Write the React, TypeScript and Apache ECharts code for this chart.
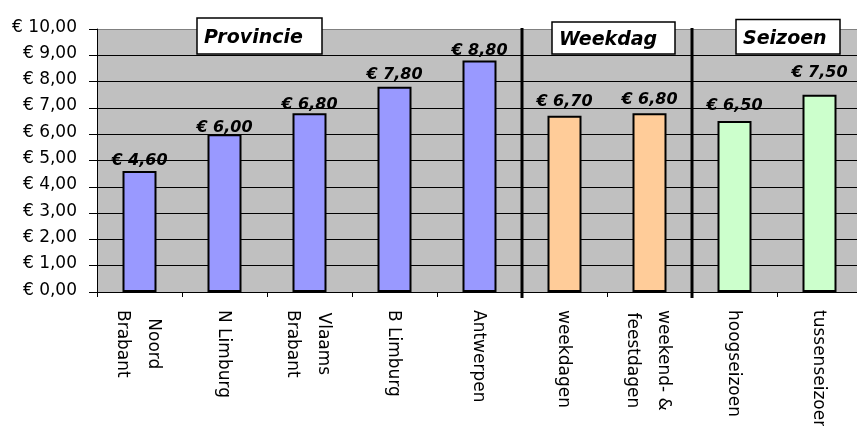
import React, { useEffect, useRef } from 'react';
import * as echarts from 'echarts';

const categories = [
  'Noord\nBrabant',
  'N Limburg',
  'Vlaams\nBrabant',
  'B Limburg',
  'Antwerpen',
  'weekdagen',
  'weekend- &\nfeestdagen',
  'hoogseizoen',
  'tussenseizoen',
];
const prices = [4.6, 6.0, 6.8, 7.8, 8.8, 6.7, 6.8, 6.5, 7.5];
const groupNames = ['Provincie', 'Weekdag', 'Seizoen'];
const groupIndex = [0, 0, 0, 0, 0, 1, 1, 2, 2];
const groupColors = ['#9999FF', '#FFCC99', '#CCFFCC'];
const labelGaps = [4, 0, 2, 5, 3, 7, 7, 9, 15];
const yMin = 0;
const yMax = 10;
const yStep = 1;

const euro = (v: number) => '€ ' + Number(v).toFixed(2).replace('.', ',');

// title boxes: [x, y, w, h]
const titleBoxes = [
  [197, 18, 125, 36],
  [552, 22, 123, 32],
  [736, 19.5, 104, 34.5],
];

export default function App() {
  const ref = useRef<HTMLDivElement>(null);
  useEffect(() => {
    const chart = echarts.init(ref.current!, null, { renderer: 'svg' });
    const splitColors: string[] = [];
    for (let v = yMin; v <= yMax; v += yStep) splitColors.push(v === yMax ? '#808080' : '#000000');
    chart.setOption({
      animation: false,
      textStyle: { fontFamily: 'DejaVu Sans' },
      grid: {
        left: 97,
        top: 29,
        width: 765,
        height: 263,
        show: true,
        backgroundColor: '#C0C0C0',
        borderWidth: 0,
        containLabel: false,
        outerBoundsMode: 'none',
      },
      xAxis: {
        type: 'category',
        data: categories,
        axisLine: { lineStyle: { color: '#000', width: 1 } },
        axisTick: { show: true, length: 5, lineStyle: { color: '#000' } },
        axisLabel: {
          rotate: -90,
          margin: 18,
          interval: 0,
          color: '#000',
          fontSize: 17,
          fontFamily: 'DejaVu Sans',
          formatter: (v: string) => v.split('\n').map((s) => `{c|${s}}`).join('\n'),
          rich: {
            c: { align: 'center', fontSize: 17, lineHeight: 31, fontFamily: 'DejaVu Sans', color: '#000' },
          },
        },
      },
      yAxis: {
        type: 'value',
        min: yMin,
        max: yMax,
        interval: yStep,
        axisLine: { show: true, lineStyle: { color: '#000' } },
        axisTick: { show: true, length: 8, lineStyle: { color: '#000' } },
        axisLabel: {
          margin: 20,
          fontSize: 17,
          color: '#000',
          fontFamily: 'DejaVu Sans',
          verticalAlign: 'bottom',
          lineHeight: 7,
          formatter: (v: number) => euro(v),
        },
        splitLine: { show: true, lineStyle: { color: splitColors, width: 1 } },
      },
      series: [
        {
          type: 'bar',
          barWidth: 34,
          data: prices.map((v, i) => ({
            value: v,
            itemStyle: { color: groupColors[groupIndex[i]] },
            label: { distance: labelGaps[i] },
          })),
          itemStyle: { borderColor: '#000', borderWidth: 2 },
          label: {
            show: true,
            position: 'top',
            formatter: (p: any) => euro(p.value),
            fontSize: 16,
            fontWeight: 'bold',
            fontStyle: 'italic',
            fontFamily: 'DejaVu Sans',
            color: '#000',
          },
        },
      ],
    });

    const px = (i: number) => chart.convertToPixel({ xAxisIndex: 0 }, categories[i]) as number;
    const boundaries: number[] = [];
    for (let i = 1; i < categories.length; i++) {
      if (groupIndex[i] !== groupIndex[i - 1]) boundaries.push((px(i) + px(i - 1)) / 2);
    }
    const yTop = chart.convertToPixel({ yAxisIndex: 0 }, yMax) as number;
    const yBottom = chart.convertToPixel({ yAxisIndex: 0 }, yMin) as number;

    const graphics: any[] = [];
    boundaries.forEach((x) => {
      graphics.push({
        type: 'line',
        shape: { x1: x, y1: yTop - 1, x2: x, y2: yBottom + 6 },
        style: { stroke: '#000', lineWidth: 3 },
        z: 10,
      });
    });
    groupNames.forEach((name, g) => {
      const [x, y, w, h] = titleBoxes[g];
      graphics.push({
        type: 'rect',
        shape: { x, y, width: w, height: h },
        style: { fill: '#fff', stroke: '#000', lineWidth: 1.5 },
        z: 11,
      });
      graphics.push({
        type: 'text',
        x: x + 7,
        y: y + h / 2,
        style: {
          text: name,
          font: 'italic bold 19px "DejaVu Sans"',
          fill: '#000',
          textAlign: 'left',
          textVerticalAlign: 'middle',
        },
        z: 12,
      });
    });
    chart.setOption({ graphic: graphics });

    return () => chart.dispose();
  }, []);
  return <div ref={ref} style={{ position: 'fixed', left: 0, top: 0, width: 857, height: 426 }} />;
}
